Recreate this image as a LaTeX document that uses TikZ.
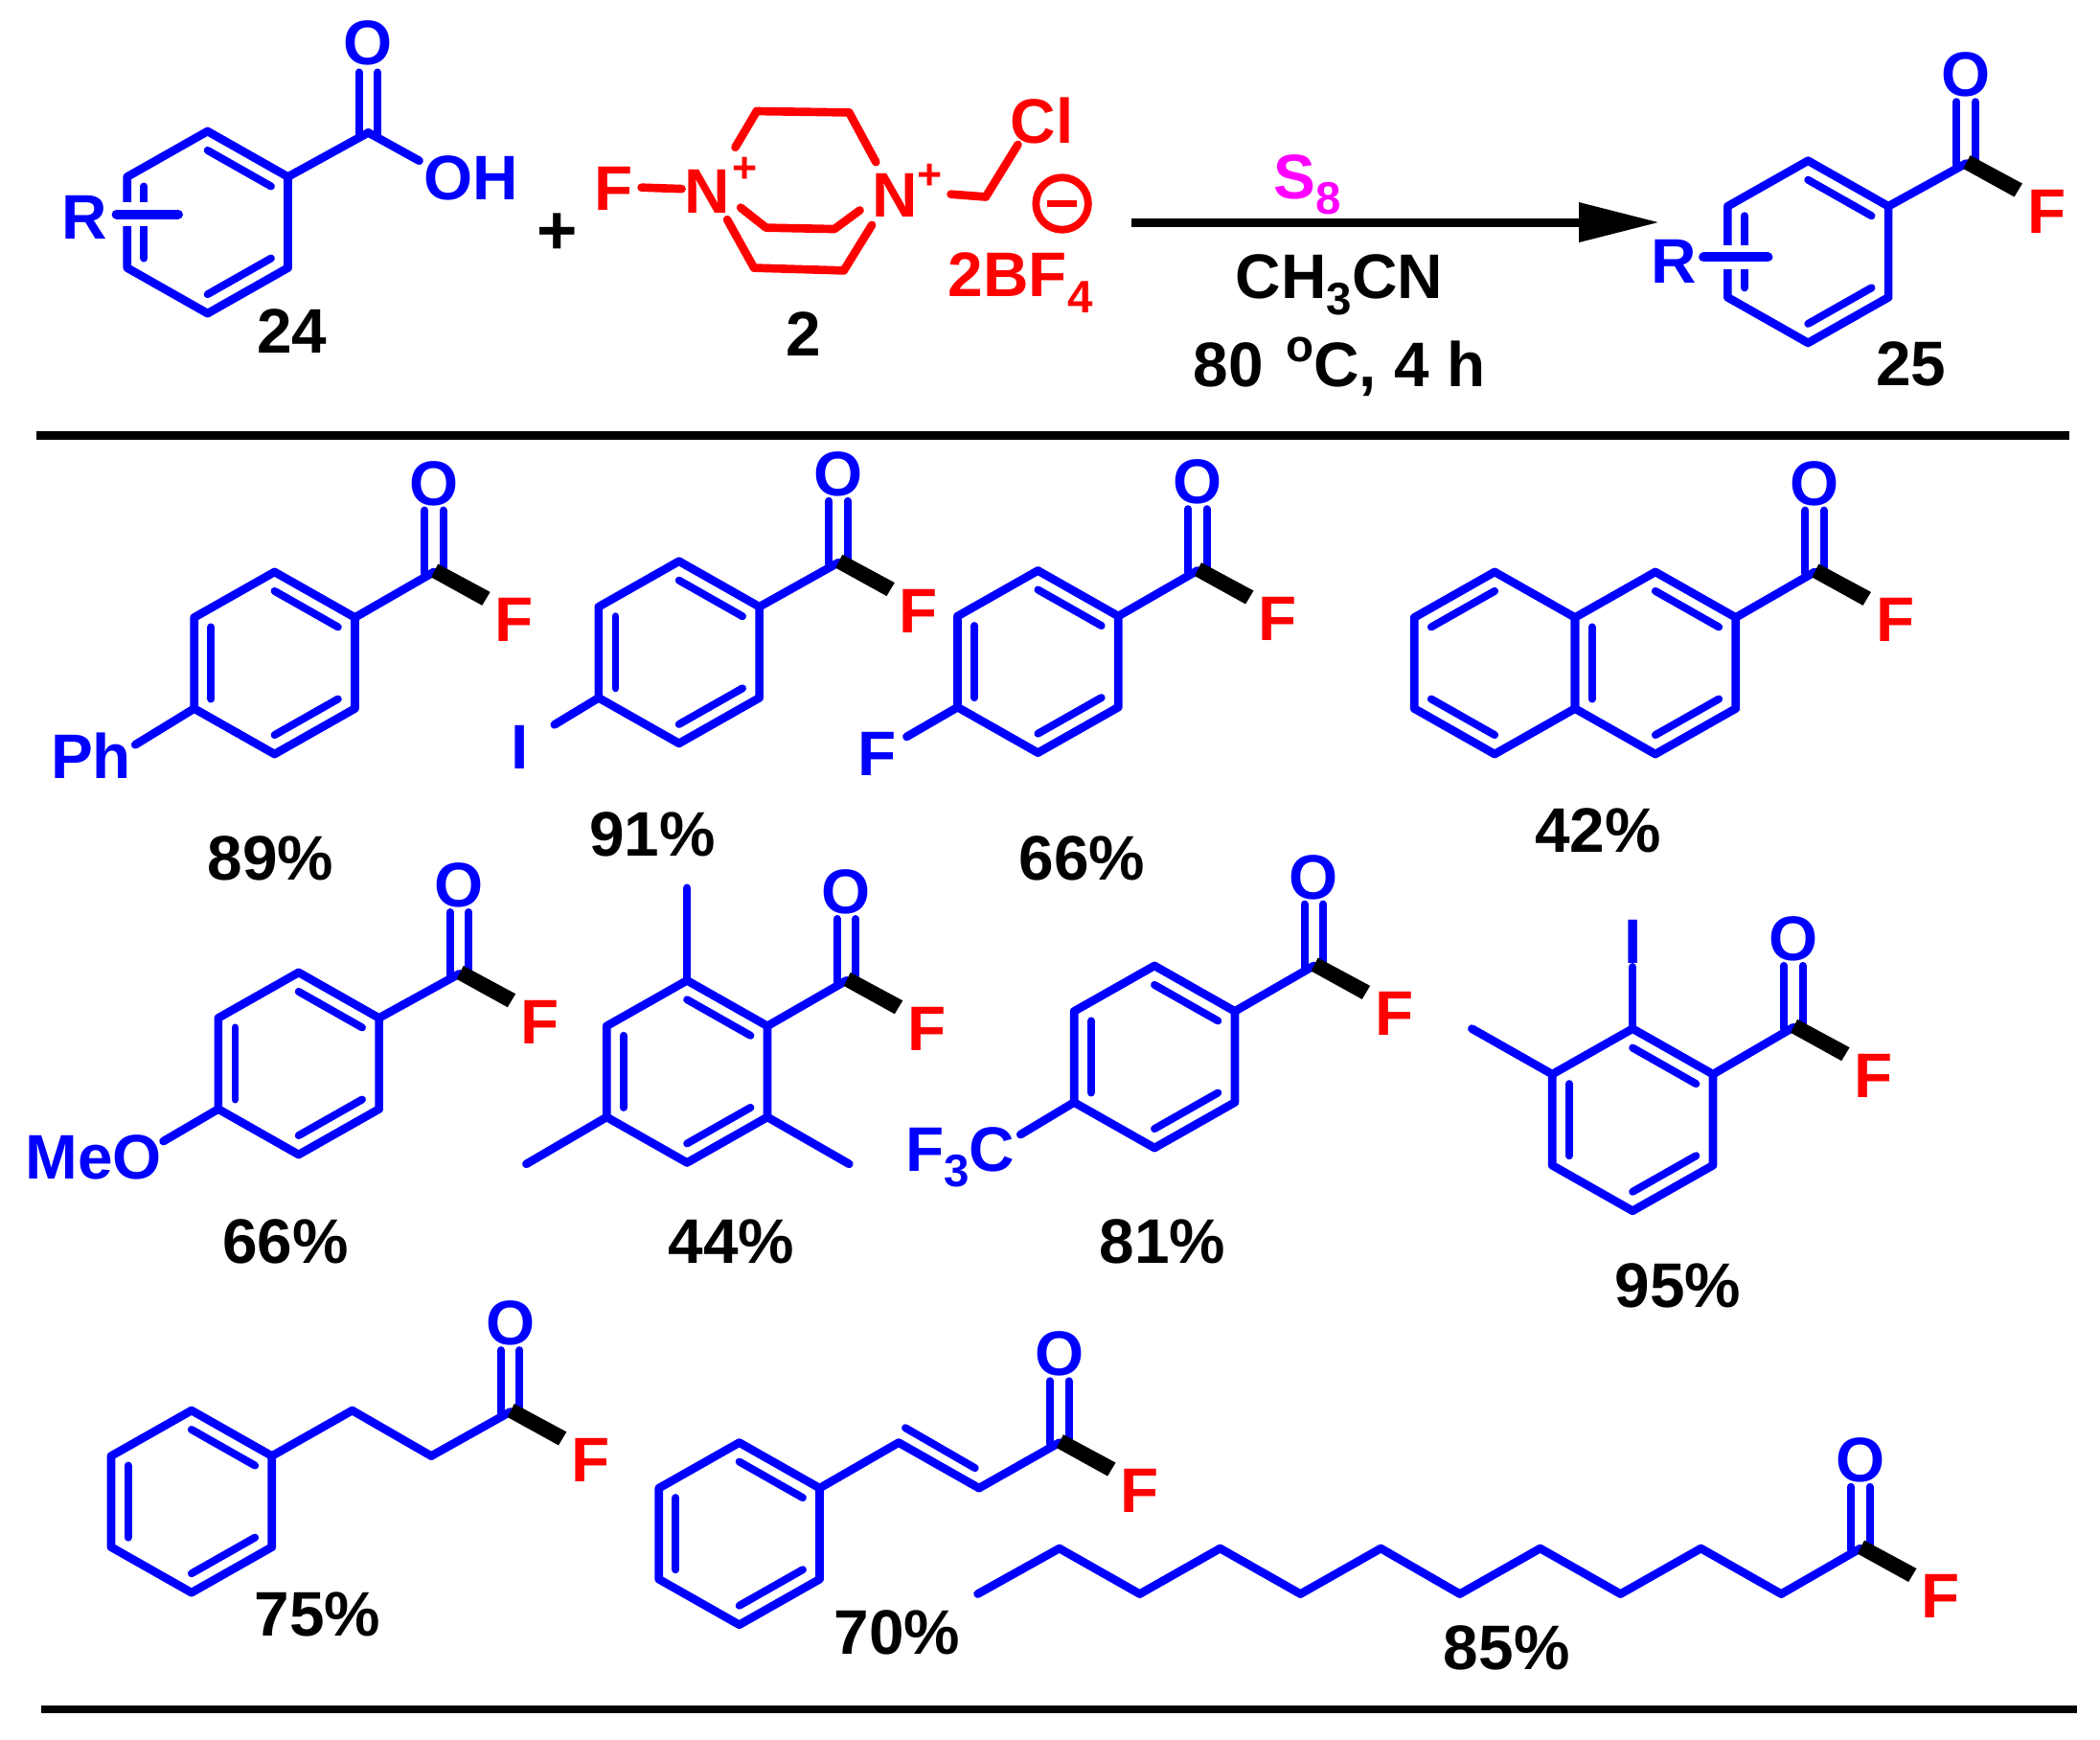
\documentclass[tikz,border=0pt]{standalone}
\usepackage{fontspec}
\setmainfont{Liberation Sans}[BoldFont={Liberation Sans Bold}]
\usetikzlibrary{calc}
\definecolor{chemblue}{RGB}{0,0,255}
\definecolor{chemred}{RGB}{255,0,0}
\definecolor{chemmag}{RGB}{255,0,255}
\tikzset{
  x=0.5pt,y=-0.5pt,
  bond/.style={line width=3.1pt,draw=chemblue,line cap=round,line join=round},
  thinbond/.style={line width=2.85pt,draw=chemblue,line cap=round},
  redbond/.style={line width=3.1pt,draw=chemred,line cap=round,line join=round},
  rulebar/.style={line width=3pt,draw=black},
  atom/.style={inner sep=0pt,font=\fontsize{23.5}{25}\selectfont\bfseries,text=chemblue},
  redatom/.style={atom,text=chemred},
  lab/.style={inner sep=0pt,font=\fontsize{23.5}{25}\selectfont\bfseries,text=black},
}
\newcommand{\subs}[1]{\smash{\raisebox{-6pt}{\fontsize{17}{18}\selectfont #1}}}
% ring: name, centre x, centre y ; vertices 1 top, clockwise
\newcommand{\hexring}[3]{%
  \coordinate (#1c) at (#2,#3);
  \coordinate (#11) at (#2,#3-68);
  \coordinate (#12) at (#2+60,#3-34);
  \coordinate (#13) at (#2+60,#3+34);
  \coordinate (#14) at (#2,#3+68);
  \coordinate (#15) at (#2-60,#3+34);
  \coordinate (#16) at (#2-60,#3-34);
  \draw[bond] (#11)--(#12)--(#13)--(#14)--(#15)--(#16)--cycle;
}
\newcommand{\innerdbl}[3]{% ring, vertex a, vertex b
  \draw[thinbond] ($(#1c)!0.79!(#1#2)$)--($(#1c)!0.79!(#1#3)$);
}
\newcommand{\benz}[3]{\hexring{#1}{#2}{#3}\innerdbl{#1}{1}{2}\innerdbl{#1}{3}{4}\innerdbl{#1}{5}{6}}
% acyl fluoride: name, attachment coordinate, C x, C y
\newcommand{\acylF}[4]{%
  \coordinate (#1C) at (#3,#4);
  \draw[bond] (#2)--(#1C);
  \node[atom] (#1O) at (#3,#4-66) {O};
  \node[redatom] (#1F) at (#3+60,#4+36) {F};
  \draw[thinbond] (#3-7,#4+1)--(#3-7,#4-46) (#3+7,#4-1)--(#3+7,#4-46);
  \fill[black] ($(#1C)+(3,-6)$)--($(#1C)+(42,15)$)--($(#1C)+(36,25)$)--($(#1C)+(-2,4)$)--cycle;
}
\newcommand{\yieldlab}[4]{\node[lab] (#1) at (#2,#3-2) {#4};}
\begin{document}
\begin{tikzpicture}
\useasboundingbox (0,0) rectangle (1568,1299);
\fill[white] (0,0) rectangle (1568,1299);

% --- reactant 24
\benz{ra}{155}{166}
\coordinate (raC) at (275,99);
\draw[bond] (ra2)--(raC);
\node[atom] (raO) at (275,32) {O};
\node[atom] (raOH) at (352,133) {OH};
\draw[thinbond] (268,100)--(268,54) (282,100)--(282,54);
\coordinate (raOe) at (313,120);
\draw[bond] (raC)--(raOe);
\node[atom] (raR) at (63,162) {R};
\draw[white,line width=9pt] (85,160)--(134,160);
\coordinate (raBa) at (87,160); \coordinate (raBb) at (133,160);
\draw[line width=3.6pt,draw=chemblue,line cap=round] (raBa)--(raBb);
\node[lab] (l24) at (218,247) {24};

\node[lab,font=\fontsize{26}{28}\selectfont\bfseries] (plus) at (416,175) {+};

% --- reagent 2
\node[redatom] (nF) at (458,141) {F};
\node[redatom] (nN1) at (528,143) {N};
\node[redatom] (nN2) at (668,146) {N};
\node[redatom,font=\fontsize{16}{18}\selectfont\bfseries] (nP1) at (556,127) {+};
\node[redatom,font=\fontsize{16}{18}\selectfont\bfseries] (nP2) at (694,132) {+};
\node[redatom] (nCl) at (778,90) {Cl};
\coordinate (f1) at (479,140); \coordinate (f2) at (509,141);
\draw[redbond] (f1)--(f2);
\coordinate (t1) at (549,110); \coordinate (t2) at (565,83); \coordinate (t3) at (634,84); \coordinate (t4) at (654,121);
\draw[redbond] (t1)--(t2)--(t3)--(t4);
\coordinate (m1) at (553,155); \coordinate (m2) at (572,170); \coordinate (m3) at (623,171); \coordinate (m4) at (642,157);
\draw[redbond] (m1)--(m2)--(m3)--(m4);
\coordinate (b1) at (543,164); \coordinate (b2) at (563,200); \coordinate (b3) at (630,202); \coordinate (b4) at (651,168);
\draw[redbond] (b1)--(b2)--(b3)--(b4);
\coordinate (c1) at (710,145); \coordinate (c2) at (736,147); \coordinate (c3) at (760,108);
\draw[redbond] (c1)--(c2)--(c3);
\node[draw=chemred,line width=2.8pt,circle,minimum size=19.5pt,inner sep=0pt] (nMinus) at (793,152) {};
\draw[chemred,line width=2.6pt] ($(nMinus)+(-11,0)$)--($(nMinus)+(11,0)$);
\node[redatom] (nBF) at (762,205) {2BF\subs{4}};
\node[lab] (l2) at (600,249) {2};

% --- arrow
\coordinate (arS) at (845,166);
\coordinate (arE) at (1180,166);
\coordinate (arT) at (1238,166);
\draw[line width=3.2pt] (arS)--(arE);
\fill[black] (1179,151)--(arT)--(1179,181)--cycle;
\node[lab,text=chemmag] (cS) at (976,132) {S\subs{8}};
\node[lab] (cA) at (1000,207) {CH\subs{3}CN};
\node[lab] (cT) at (1000,275) {80\hspace{2pt} \smash{\raisebox{9pt}{\fontsize{17}{18}\selectfont o}}C, 4 h};

% --- product 25
\benz{pa}{1350}{188}
\acylF{pb}{pa2}{1468}{122}
\node[atom] (paR) at (1250,195) {R};
\draw[white,line width=9pt] (1270,192)--(1322,192);
\coordinate (paBa) at (1272,192); \coordinate (paBb) at (1320,192);
\draw[line width=3.6pt,draw=chemblue,line cap=round] (paBa)--(paBb);
\node[lab] (l25) at (1427,272) {25};

% --- rules
\coordinate (r1a) at (27,325); \coordinate (r1b) at (1545,325);
\coordinate (r2a) at (31,1276); \coordinate (r2b) at (1551,1276);
\draw[rulebar] (r1a)--(r1b);
\draw[rulebar] (r2a)--(r2b);

% --- row 1
\benz{A}{205}{495}
\acylF{Aa}{A2}{324}{427}
\node[atom] (APh) at (68,564) {Ph};
\coordinate (APhe) at (101,556);
\draw[bond] (A5)--(APhe);
\yieldlab{yA}{202}{643}{89\%}

\benz{B}{507}{487}
\acylF{Ba}{B2}{626}{420}
\node[atom] (BI) at (388,558) {I};
\coordinate (BIe) at (414,541);
\draw[bond] (B5)--(BIe);
\yieldlab{yB}{487}{625}{91\%}

\benz{C}{775}{494}
\acylF{Ca}{C2}{894}{426}
\node[atom] (CF) at (655,563) {F};
\coordinate (CFe) at (677,550);
\draw[bond] (C5)--(CFe);
\yieldlab{yC}{808}{643}{66\%}

\hexring{Dl}{1116}{495}
\benz{D}{1236}{495}
\innerdbl{Dl}{1}{6}\innerdbl{Dl}{4}{5}
\acylF{Da}{D2}{1355}{427}
\yieldlab{yD}{1193}{622}{42\%}

% --- row 2
\benz{E}{223}{794}
\acylF{Ea}{E2}{343}{727}
\node[atom] (EM) at (70,864) {MeO};
\coordinate (EMe) at (122,852);
\draw[bond] (E5)--(EMe);
\yieldlab{yE}{213}{929}{66\%}

\benz{F}{513}{800}
\acylF{Fa}{F2}{632}{732}
\coordinate (Fm1) at (513,663); \coordinate (Fm2) at (393,869); \coordinate (Fm3) at (634,869);
\draw[bond] (F1)--(Fm1);
\draw[bond] (F5)--(Fm2);
\draw[bond] (F3)--(Fm3);
\yieldlab{yF}{546}{929}{44\%}

\benz{G}{862}{789}
\acylF{Ga}{G2}{981}{721}
\node[atom] (GC) at (717,858) {F\subs{3}C};
\coordinate (GCe) at (762,847);
\draw[bond] (G5)--(GCe);
\yieldlab{yG}{868}{929}{81\%}

\benz{H}{1219}{836}
\acylF{Ha}{H2}{1339}{767}
\node[atom] (HI) at (1219,703) {I};
\coordinate (HIe) at (1219,722); \coordinate (Hm) at (1099,768);
\draw[bond] (H1)--(HIe);
\draw[bond] (H6)--(Hm);
\yieldlab{yH}{1253}{962}{95\%}

% --- row 3
\benz{I}{143}{1121}
\coordinate (Ic1) at (263,1053); \coordinate (Ic2) at (322,1087);
\draw[bond] (I2)--(Ic1)--(Ic2);
\acylF{Ia}{Ic2}{381}{1054}
\yieldlab{yI}{237}{1207}{75\%}

\benz{J}{552}{1145}
\coordinate (Jc1) at (671,1077); \coordinate (Jc2) at (731,1111);
\coordinate (Jd1) at (676,1066); \coordinate (Jd2) at (728,1096);
\draw[bond] (J2)--(Jc1)--(Jc2);
\draw[thinbond] (Jd1)--(Jd2);
\acylF{Ja}{Jc2}{791}{1077}
\yieldlab{yJ}{670}{1221}{70\%}

\coordinate (K0) at (730,1190); \coordinate (K1) at (791,1156); \coordinate (K2) at (851,1190);
\coordinate (K3) at (911,1156); \coordinate (K4) at (971,1190); \coordinate (K5) at (1031,1156);
\coordinate (K6) at (1090,1190); \coordinate (K7) at (1150,1156); \coordinate (K8) at (1210,1190);
\coordinate (K9) at (1270,1156); \coordinate (K10) at (1330,1190);
\draw[bond] (K0)--(K1)--(K2)--(K3)--(K4)--(K5)--(K6)--(K7)--(K8)--(K9)--(K10);
\acylF{Ka}{K10}{1389}{1156}
\yieldlab{yK}{1125}{1232}{85\%}
\end{tikzpicture}
\end{document}
